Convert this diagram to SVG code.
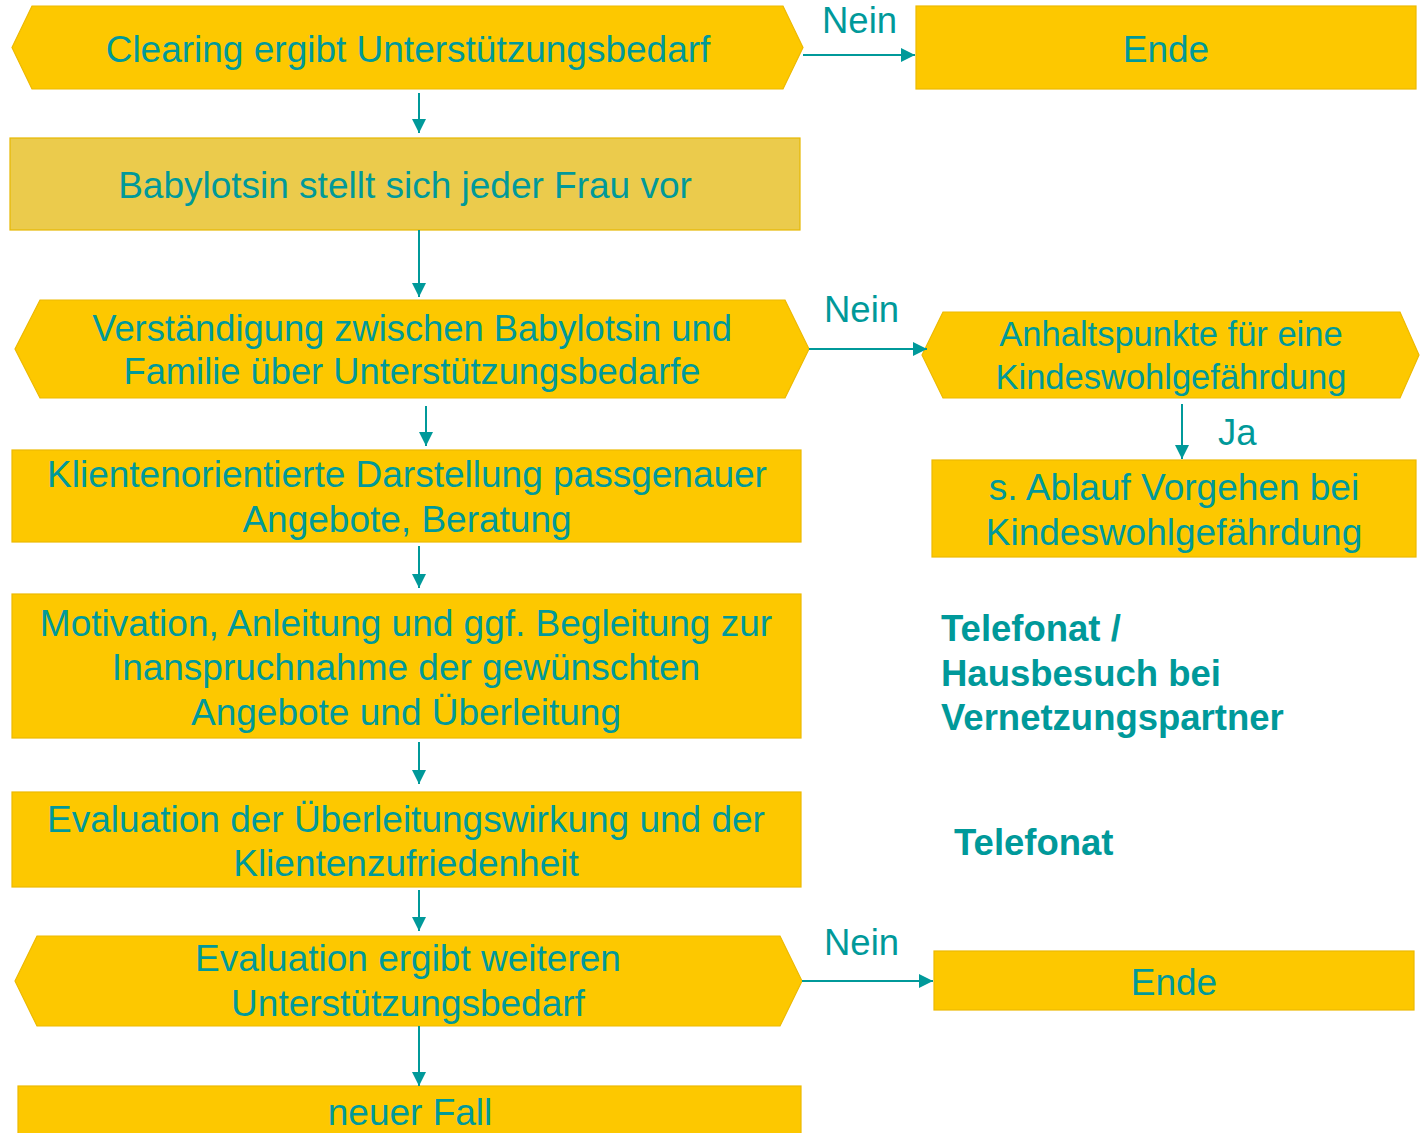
<svg xmlns="http://www.w3.org/2000/svg" width="1423" height="1133" viewBox="0 0 1423 1133">
<style>
.box{fill:#FDC800;stroke:#EDB900;stroke-width:1.2}
.box2{fill:#EBCB4C;stroke:#E6B800;stroke-width:1.2}
.t{font-family:"Liberation Sans",Arial,sans-serif;font-size:37px;fill:#00999A;text-anchor:middle}
.s{font-size:34.5px}
.m{font-size:36.3px}
.lab{font-family:"Liberation Sans",Arial,sans-serif;font-size:36.5px;fill:#00999A}
.b{font-family:"Liberation Sans",Arial,sans-serif;font-size:36.5px;font-weight:bold;fill:#00999A}
.c{stroke:#00999A;stroke-width:2;fill:none;marker-end:url(#ah)}
</style>
<defs>
<marker id="ah" markerWidth="16" markerHeight="16" refX="14" refY="7" orient="auto" markerUnits="userSpaceOnUse">
<path d="M0,0 L14,7 L0,14 Z" fill="#00999A"/>
</marker>
</defs>
<rect width="1423" height="1133" fill="#FFFFFF"/>

<g id="n1">
<polygon class="box" points="32,6 783,6 803,47.5 783,89 32,89 12,47.5"/>
<text class="t" x="408" y="62">Clearing ergibt Unterstützungsbedarf</text>
</g>
<g id="n_ende1">
<rect class="box" x="916" y="6" width="500" height="83"/>
<text class="t" x="1166" y="62">Ende</text>
</g>
<g id="n2">
<rect class="box2" x="10" y="138" width="790" height="92"/>
<text class="t" x="405" y="198">Babylotsin stellt sich jeder Frau vor</text>
</g>
<g id="n3">
<polygon class="box" points="40,300 785,300 809,349 785,398 40,398 15,349"/>
<text class="t m" x="412" y="341">Verständigung zwischen Babylotsin und</text>
<text class="t m" x="412" y="384">Familie über Unterstützungsbedarfe</text>
</g>
<g id="n_anhalt">
<polygon class="box" points="943,312 1400,312 1419,355 1400,398 943,398 922,355"/>
<text class="t s" x="1171" y="346">Anhaltspunkte für eine</text>
<text class="t s" x="1171" y="389">Kindeswohlgefährdung</text>
</g>
<g id="n_ablauf">
<rect class="box" x="932" y="460" width="484" height="97"/>
<text class="t" x="1174" y="500">s. Ablauf Vorgehen bei</text>
<text class="t" x="1174" y="545">Kindeswohlgefährdung</text>
</g>
<g id="n4">
<rect class="box" x="12" y="450" width="789" height="92"/>
<text class="t" x="407" y="487">Klientenorientierte Darstellung passgenauer</text>
<text class="t" x="407" y="532">Angebote, Beratung</text>
</g>
<g id="n5">
<rect class="box" x="12" y="594" width="789" height="144"/>
<text class="t" x="406" y="636">Motivation, Anleitung und ggf. Begleitung zur</text>
<text class="t" x="406" y="680">Inanspruchnahme der gewünschten</text>
<text class="t" x="406" y="725">Angebote und Überleitung</text>
</g>
<g id="n6">
<rect class="box" x="12" y="792" width="789" height="95"/>
<text class="t" x="406" y="832">Evaluation der Überleitungswirkung und der</text>
<text class="t" x="406" y="876">Klientenzufriedenheit</text>
</g>
<g id="n7">
<polygon class="box" points="37,936 780,936 802,981 780,1026 37,1026 15,981"/>
<text class="t" x="408" y="971">Evaluation ergibt weiteren</text>
<text class="t" x="408" y="1016">Unterstützungsbedarf</text>
</g>
<g id="n_ende2">
<rect class="box" x="934" y="951" width="480" height="59"/>
<text class="t" x="1174" y="995">Ende</text>
</g>
<g id="n8">
<rect class="box" x="18" y="1086" width="783" height="60"/>
<text class="t" x="410" y="1125">neuer Fall</text>
</g>
<g id="notes">
<text class="b" x="941" y="641">Telefonat /</text>
<text class="b" x="941" y="686">Hausbesuch bei</text>
<text class="b" x="941" y="730">Vernetzungspartner</text>
<text class="b" x="954" y="855">Telefonat</text>
</g>

<g id="connectors">
<line class="c" x1="803" y1="55" x2="915" y2="55"/>
<line class="c" x1="419" y1="93" x2="419" y2="133"/>
<line class="c" x1="419" y1="230" x2="419" y2="297"/>
<line class="c" x1="809" y1="349" x2="927" y2="349"/>
<line class="c" x1="1182" y1="404" x2="1182" y2="459"/>
<line class="c" x1="426" y1="406" x2="426" y2="446"/>
<line class="c" x1="419" y1="546" x2="419" y2="588"/>
<line class="c" x1="419" y1="742" x2="419" y2="784"/>
<line class="c" x1="419" y1="890" x2="419" y2="931"/>
<line class="c" x1="802" y1="981" x2="933" y2="981"/>
<line class="c" x1="419" y1="1026" x2="419" y2="1086"/>
<text class="lab" x="822" y="33">Nein</text>
<text class="lab" x="824" y="322">Nein</text>
<text class="lab" x="1218" y="445">Ja</text>
<text class="lab" x="824" y="955">Nein</text>
</g>
</svg>
